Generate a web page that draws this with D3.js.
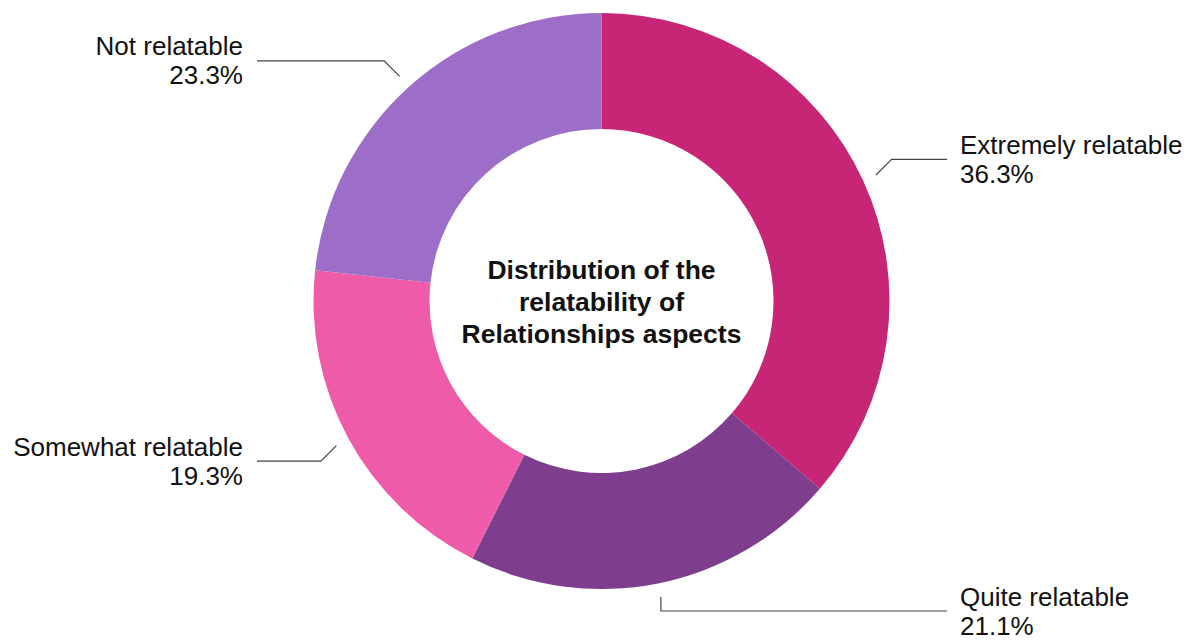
<!DOCTYPE html>
<html>
<head>
<meta charset="utf-8">
<script src="https://cdn.jsdelivr.net/npm/d3@7"></script>
<style>
  html, body { margin: 0; padding: 0; background: #fff; }
  svg { display: block; }
  text { font-family: "Liberation Sans", Arial, Helvetica, sans-serif; fill: #111; }
</style>
</head>
<body>
<svg id="chart" width="1195" height="641"></svg>
<script>
const categories = ["Extremely relatable", "Quite relatable", "Somewhat relatable", "Not relatable"];
const values = [36.3, 21.1, 19.3, 23.3];
const colors = ["#C72677", "#7F3D8E", "#EE5BA8", "#9C6EC8"];
const titleLines = ["Distribution of the", "relatability of", "Relationships aspects"];

const W = 1195, H = 641;
const cx = 601.5, cy = 301;
const R = 288, r0 = 172;

const svg = d3.select("#chart");
const g = svg.append("g").attr("transform", `translate(${cx},${cy})`);

const data = categories.map((c, i) => ({ cat: c, value: values[i], color: colors[i] }));
const pie = d3.pie().sort(null).value(d => d.value);
const arcs = pie(data);
const arc = d3.arc().innerRadius(r0).outerRadius(R);

g.selectAll("path.slice").data(arcs).join("path")
  .attr("class", "slice")
  .attr("d", arc)
  .attr("fill", d => d.data.color);

// leader lines + labels
const fs = 26, lh = 29;
arcs.forEach(a => {
  const mid = (a.startAngle + a.endAngle) / 2;
  const s = Math.sin(mid), c = -Math.cos(mid);
  const p1 = [s * (R + 14), c * (R + 14)];
  const q = Math.round(mid / (Math.PI / 4)) * (Math.PI / 4);
  let p2 = [p1[0] + Math.sin(q) * 22, p1[1] - Math.cos(q) * 22];
  if (cy + p2[1] > H - 30) {
    const k = (H - 30 - cy - p1[1]) / (p2[1] - p1[1]);
    p2 = [p1[0] + (p2[0] - p1[0]) * k, H - 30 - cy];
  }
  const right = s >= 0;
  const xEnd = right ? 947 - cx : 257 - cx;
  g.append("polyline")
    .attr("points", [p1, p2, [xEnd, p2[1]]].map(p => p.join(",")).join(" "))
    .attr("fill", "none")
    .attr("stroke", "#444")
    .attr("stroke-width", 1.2);
  const tx = right ? xEnd + 13 : xEnd - 14;
  const t = g.append("text")
    .attr("text-anchor", right ? "start" : "end")
    .attr("font-size", fs);
  t.append("tspan").attr("x", tx).attr("y", p2[1] - 5.5).text(a.data.cat);
  t.append("tspan").attr("x", tx).attr("y", p2[1] - 5.5 + lh).text(d3.format(".1f")(a.data.value) + "%");
});

// center title
const tt = g.append("text").attr("text-anchor", "middle").attr("font-size", 26.5).attr("font-weight", "bold");
titleLines.forEach((l, i) => {
  tt.append("tspan").attr("x", 0).attr("y", -22 + i * 32).text(l);
});
</script>
</body>
</html>
